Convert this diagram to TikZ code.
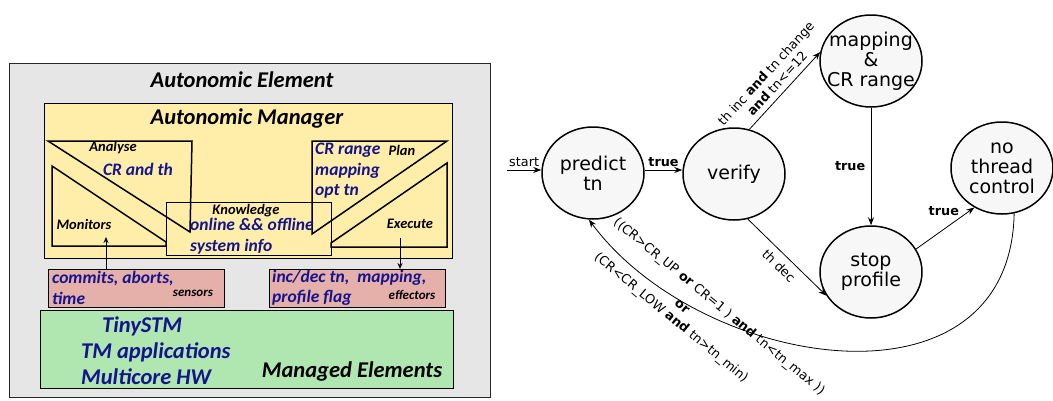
\documentclass[tikz,border=0pt]{standalone}
\usepackage{fontspec}
\setmainfont{Carlito}
\newfontfamily\statefont{DejaVu Sans}
\usetikzlibrary{arrows.meta, shapes.geometric}

\definecolor{elemgray}{RGB}{230,230,230}
\definecolor{mgryellow}{RGB}{255,238,170}
\definecolor{sensorpink}{RGB}{230,176,170}
\definecolor{managedgreen}{RGB}{176,230,176}
\definecolor{textblue}{RGB}{20,20,140}
\definecolor{statefill}{RGB}{247,247,247}

\tikzstyle{panel} = [rectangle, anchor=north west, inner sep=0pt,
draw=black, line width=1.2pt]
\tikzstyle{tri} = [draw=black, line width=1.5pt, line join=miter]
\tikzstyle{amtext} = [inner sep=0pt, font=\bfseries\itshape\fontsize{14.5}{17}\selectfont]
\tikzstyle{bluetext} = [inner sep=0pt, align=left, text=textblue,
font=\bfseries\itshape\fontsize{17.5}{20.5}\selectfont]
\tikzstyle{bigtext} = [inner sep=0pt, font=\bfseries\itshape\fontsize{22.5}{27}\selectfont]
\tikzstyle{state} = [ellipse, draw=black, line width=1.5pt, fill=statefill,
minimum width=102pt, minimum height=92pt, inner sep=0pt]
\tikzstyle{statetext} = [inner sep=0pt, align=center,
font=\statefont\fontsize{19}{20}\selectfont]
\tikzstyle{lbl} = [font=\statefont\fontsize{12.8}{15}\selectfont, align=center]
\tikzstyle{arrow} = [-{Stealth[length=8pt, width=6pt]}, line width=0.8pt]

\begin{document}
\begin{tikzpicture}[x=1pt, y=-1pt]
	\useasboundingbox (0,0) rectangle (1053,400);
	
	% Autonomic element
	\node[panel, fill=elemgray, draw=black!85, minimum width=481pt, minimum height=334pt] (element) at (9,63) {};
	\node[bigtext] (elemtitle) at (242,80) {Autonomic Element};
	\node[panel, fill=mgryellow, minimum width=408pt, minimum height=155pt] (manager) at (44,103) {};
	\node[bigtext] (mgrtitle) at (247,118) {Autonomic Manager};
	\node[panel, fill=mgryellow, minimum width=165pt, minimum height=53pt] (knowledge) at (166,202) {};
	
	\draw[tri] (48,141) -- (192,141) -- (190,232) -- cycle;
	\draw[tri] (52,166) -- (52,246) -- (166,246) -- (166,242) -- cycle;
	\draw[tri] (312,141) -- (447,141) -- (312,234) -- cycle;
	\draw[tri] (447,163) -- (447,247) -- (331,247) -- (331,243) -- cycle;
	
	\node[amtext] (analyse) at (113,148) {Analyse};
	\node[bluetext] (analysetxt) at (138,169) {CR and th};
	\node[amtext] (plan) at (402,150) {Plan};
	\node[bluetext, anchor=west] (plantxt) at (315,171) {CR range\\mapping\\opt tn};
	\node[amtext] (monitors) at (84,224) {Monitors};
	\node[amtext] (execute) at (410,224) {Execute};
	\node[amtext] (knowtitle) at (246,211) {Knowledge};
	\node[bluetext, anchor=west] (knowtxt) at (190,236) {online \&\& offline\\system info};
	
	\node[panel, fill=sensorpink, minimum width=176pt, minimum height=38pt] (sensors) at (48,269) {};
	\node[bluetext, anchor=west] (sensortxt) at (52,288) {commits, aborts,\\time};
	\node[amtext, font=\bfseries\itshape\fontsize{13}{15}\selectfont] (sensorlbl) at (193,293) {sensors};
	\node[panel, fill=sensorpink, minimum width=176pt, minimum height=38pt] (effectors) at (269,269) {};
	\node[bluetext, anchor=west] (effectortxt) at (272,288) {inc/dec tn,\ \ mapping,\\profile flag};
	\node[amtext, font=\bfseries\itshape\fontsize{13}{15}\selectfont] (effectorlbl) at (412,295) {effectors};
	
	\node[panel, fill=managedgreen, minimum width=413pt, minimum height=78pt] (managed) at (40,310) {};
	\node[bigtext, text=textblue, anchor=west] (tinystm) at (102,326) {TinySTM};
	\node[bigtext, text=textblue, anchor=west] (tmapps) at (81,352) {TM applications};
	\node[bigtext, text=textblue, anchor=west] (multicore) at (81,377) {Multicore HW};
	\node[bigtext] (managedlbl) at (352,371) {Managed Elements};
	
	\coordinate (monin) at (106,237);
	\coordinate (exeout) at (400,238);
	\draw[arrow, line width=1pt, -{Stealth[length=6pt, width=5pt]}] (sensors.north -| monin) -- (monin);
	\draw[arrow, line width=1pt, -{Stealth[length=6pt, width=5pt]}] (exeout) -- (exeout |- effectors.north);
	
	% States
	\node[state, label={[statetext]center:predict\\tn}] (predict) at (593,173) {};
	\node[state, label={[statetext]center:verify}] (verify) at (734,174) {};
	\node[state, label={[statetext]center:mapping\\\&\\CR range}] (mapping) at (871,61) {};
	\node[state, label={[statetext]center:no\\thread\\control}] (noctrl) at (1002,168) {};
	\node[state, label={[statetext]center:stop\\profile}] (stop) at (871,272) {};
	\coordinate (start) at (507,170);
	
	% Edges
	\draw[arrow] (start) -- node[lbl, above] {start} (start -| predict.west);
	\draw[arrow] (predict.east |- 0,170) -- node[lbl, above] {\textbf{true}} (verify.west |- 0,170);
	\draw[arrow] (verify.71) -- node[lbl, midway, sloped, above=2pt] {th inc \textbf{and} tn change\\\textbf{and} tn<=12} (mapping.170);
	\draw[arrow] (verify.-73) -- node[lbl, midway, sloped, below=3pt] {th dec} (stop.208);
	\draw[arrow] (mapping) -- node[lbl, midway, left, xshift=-2pt] {\textbf{true}} (stop);
	\draw[arrow] (stop.27) -- node[lbl, pos=0.8, left, yshift=5pt] {\textbf{true}} (noctrl.235);
	\draw[arrow] (noctrl.-75) .. controls (1010,420) and (700,370) .. (predict.-95);
	\node[lbl, rotate=-39.5] (backup) at (719,307) {((CR>CR\_UP \textbf{or} CR=1 ) \textbf{and} tn<tn\_max ))};
	\node[lbl, rotate=-39.5] (backor) at (682,307) {\textbf{or}};
	\node[lbl, rotate=-39.5] (backlow) at (671,318) {(CR<CR\_LOW \textbf{and} tn>tn\_min)};
	
\end{tikzpicture}
\end{document}
